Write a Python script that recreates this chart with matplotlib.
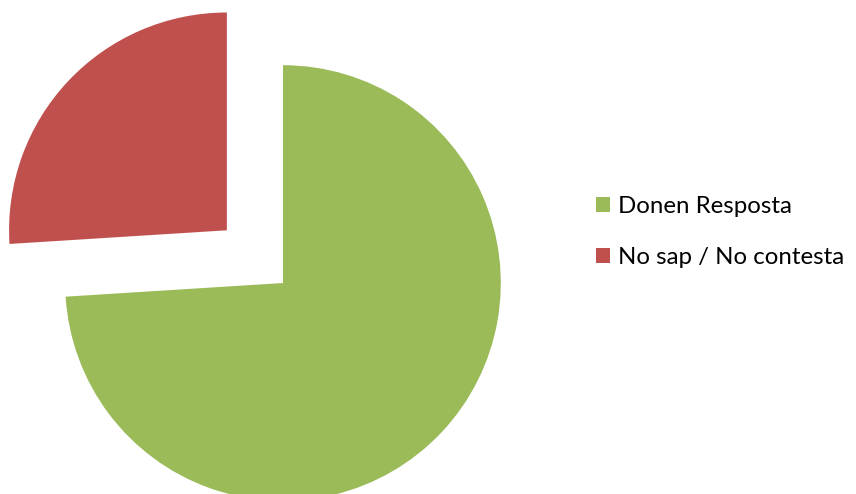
import matplotlib.pyplot as plt
from matplotlib.patches import Patch

# Survey answers
labels = ['Donen Resposta', 'No sap / No contesta']
shares = [74, 26]
colors = ['#9BBB59', '#C0504D']
explode = [0, 0.35]

fig = plt.figure(figsize=(8.56, 4.94), dpi=100)
ax = fig.add_axes([0, 0, 1, 1])

ax.pie(shares, colors=colors, explode=explode, startangle=90,
       counterclock=False, radius=0.99)

# one data unit = 220 px, pie centre at (283, 283) px from top-left
scale = 220.0
ax.set_xlim(-283 / scale, (856 - 283) / scale)
ax.set_ylim(-(494 - 283) / scale, 283 / scale)
ax.set_aspect('equal')
ax.axis('off')

handles = [Patch(facecolor=c, edgecolor='none') for c in colors]
fig.legend(handles, labels, loc='upper left',
           bbox_to_anchor=(584 / 856, 1 - 184 / 494),
           frameon=False, handlelength=0.6, handleheight=0.6,
           handletextpad=0.3, labelspacing=1.25, borderpad=0,
           prop={'family': 'Lato', 'size': 17.3})

fig.savefig('out.png', dpi=100)
